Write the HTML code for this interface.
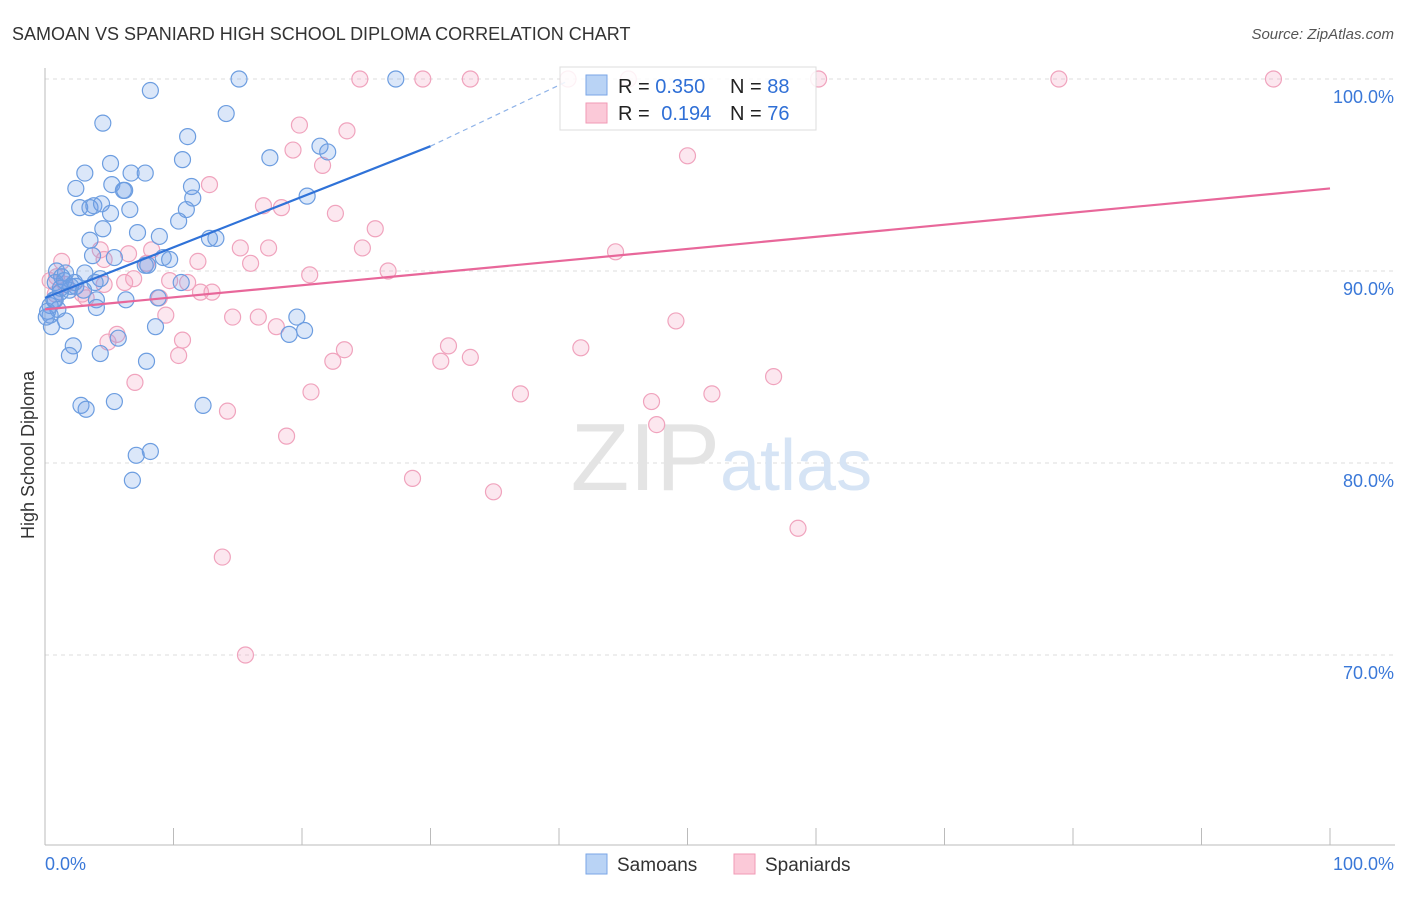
<!DOCTYPE html>
<html><head><meta charset="utf-8"><style>
body{margin:0;background:#fff;font-family:"Liberation Sans",sans-serif;}
svg text{font-family:"Liberation Sans",sans-serif;}
</style></head><body>
<svg id="chart" width="1406" height="892">
<text x="12" y="40" font-size="18" fill="#333">SAMOAN VS SPANIARD HIGH SCHOOL DIPLOMA CORRELATION CHART</text>
<text x="1394" y="39" font-size="15" fill="#555" font-style="italic" text-anchor="end">Source: ZipAtlas.com</text>
<text x="34" y="455" font-size="18" fill="#333" text-anchor="middle" transform="rotate(-90 34 455)">High School Diploma</text>
<g id="grid"></g>
<text x="720" y="490" font-size="96" fill="#e4e4e4" text-anchor="end" font-family="Liberation Serif">ZIP</text>
<text x="720" y="490" font-size="72" fill="#d6e4f5">atlas</text>
<g id="marks"></g>
<g id="lines"></g>
<g>
<rect x="560" y="67" width="256" height="63" fill="#fff" fill-opacity="0.85" stroke="#ddd"/>
<rect x="586" y="75" width="21" height="20" fill="#b9d3f5" stroke="#7aa6e6"/>
<rect x="586" y="103" width="21" height="20" fill="#fbc9d8" stroke="#f09ab6"/>
<text x="618" y="93" font-size="20" fill="#222">R = <tspan fill="#2f6fd6">0.350</tspan></text>
<text x="730" y="93" font-size="20" fill="#222">N = <tspan fill="#2f6fd6">88</tspan></text>
<text x="618" y="120" font-size="20" fill="#222">R = <tspan fill="#2f6fd6" dx="6">0.194</tspan></text>
<text x="730" y="120" font-size="20" fill="#222">N = <tspan fill="#2f6fd6">76</tspan></text>
</g>
<g>
<rect x="586" y="854" width="21" height="20" fill="#b9d3f5" stroke="#7aa6e6"/>
<text x="617" y="871" font-size="19" fill="#333">Samoans</text>
<rect x="734" y="854" width="21" height="20" fill="#fbc9d8" stroke="#f09ab6"/>
<text x="765" y="871" font-size="19" fill="#333">Spaniards</text>
</g>
<text x="45" y="870" font-size="18" fill="#3a78d8">0.0%</text>
<text x="1394" y="870" font-size="18" fill="#3a78d8" text-anchor="end">100.0%</text>
</svg>
<script>
const yTicks=[100,90,80,70];
const yTickLabels=["100.0%","90.0%","80.0%","70.0%"];
const samX=[15.1,27.3,8.2,14.1,4.5,11.1,21.4,22.0,17.5,10.7,5.1,3.1,6.7,7.8,5.2,6.1,6.2,2.4,11.4,11.5,20.4,2.7,3.5,3.8,4.4,6.6,5.1,11.0,10.4,4.5,7.2,8.9,3.5,12.8,13.3,5.4,3.7,9.2,9.7,7.8,8.0,0.9,1.6,3.1,1.3,4.3,3.9,0.8,2.0,2.4,10.6,1.9,1.2,4.0,6.3,8.8,0.8,0.4,0.2,1.0,4.0,1.6,0.5,19.6,20.2,19.0,8.6,5.7,2.2,4.3,1.9,7.9,5.4,2.8,3.2,12.3,8.2,7.1,6.8,0.4,0.7,0.1,1.2,3.0,2.3,1.5];
const samY=[100,100,99.4,98.2,97.7,97.0,96.5,96.2,95.9,95.8,95.6,95.1,95.1,95.1,94.5,94.2,94.2,94.3,94.4,93.8,93.9,93.3,93.3,93.4,93.5,93.2,93.0,93.2,92.6,92.2,92.0,91.8,91.6,91.7,91.7,90.7,90.8,90.7,90.6,90.3,90.3,90.0,89.9,89.9,89.7,89.6,89.4,89.4,89.2,89.2,89.4,89.0,88.9,88.5,88.5,88.6,88.5,88.2,87.9,88.0,88.1,87.4,87.1,87.6,86.9,86.7,87.1,86.5,86.1,85.7,85.6,85.3,83.2,83.0,82.8,83.0,80.6,80.4,79.1,87.7,88.5,87.6,89.1,89.0,89.4,89.5];
const spaX=[24.5,29.4,33.1,40.7,45.4,60.2,78.9,95.6,19.8,23.5,19.3,21.6,50.0,12.8,17.0,18.4,22.6,25.7,6.5,15.2,8.3,17.4,24.7,44.4,1.3,4.3,4.6,16.0,11.9,7.9,26.7,20.6,0.9,9.7,11.1,4.6,6.2,13.0,12.1,8.9,3.2,6.9,9.4,14.6,16.6,18.0,49.1,5.6,10.7,4.9,10.4,23.3,31.4,41.7,30.8,33.1,22.4,56.7,7.0,20.7,37.0,51.9,47.2,14.2,47.6,18.8,28.6,34.9,58.6,13.8,15.6,0.4,1.6,2.9,0.8];
const spaY=[100,100,100,100,100,100,100,100,97.6,97.3,96.3,95.5,96.0,94.5,93.4,93.3,93.0,92.2,90.9,91.2,91.1,91.2,91.2,91.0,90.5,91.1,90.6,90.4,90.5,90.4,90.0,89.8,89.7,89.5,89.4,89.3,89.4,88.9,88.9,88.6,88.6,89.6,87.7,87.6,87.6,87.1,87.4,86.7,86.4,86.3,85.6,85.9,86.1,86.0,85.3,85.5,85.3,84.5,84.2,83.7,83.6,83.6,83.2,82.7,82.0,81.4,79.2,78.5,76.6,75.1,70.0,89.5,89.3,88.8,88.8];
const samTrend=[[0,88.6],[30,96.5],[40.7,99.9]];
const spaTrend=[[0,88.0],[100,94.3]];
const NS="http://www.w3.org/2000/svg";
const X=v=>45+v*12.85, Y=v=>79+(100-v)*19.2;
function mk(tag,attrs,parent){const e=document.createElementNS(NS,tag);for(const k in attrs)e.setAttribute(k,attrs[k]);parent.appendChild(e);return e;}
const grid=document.getElementById('grid');
yTicks.forEach((t,i)=>{
 const l=mk('line',{x1:45,x2:1395,y1:Y(t),y2:Y(t),stroke:'#ddd','stroke-dasharray':'4 4'},grid);
 
 
 const tx=mk('text',{x:1394,y:Y(t)+24,'font-size':18,fill:'#3a78d8','text-anchor':'end'},grid);
 tx.textContent=yTickLabels[i];
 
 
});
const ax=mk('line',{x1:45,x2:1395,y1:845,y2:845,stroke:'#bbb'},grid);


const ay=mk('line',{x1:45,x2:45,y1:68,y2:845,stroke:'#bbb'},grid);


for(let i=0;i<=10;i++){const tk=mk('line',{x1:X(i*10),x2:X(i*10),y1:828,y2:845,stroke:'#bbb'},grid);
 
 }
const marks=document.getElementById('marks');
spaX.forEach((x,i)=>{const c=mk('circle',{cx:X(x),cy:Y(spaY[i]),r:8,fill:'rgba(244,160,190,0.25)',stroke:'#f0a3bd','stroke-width':1.2},marks);
 
 });
samX.forEach((x,i)=>{const c=mk('circle',{cx:X(x),cy:Y(samY[i]),r:8,fill:'rgba(110,160,230,0.25)',stroke:'#6c9de0','stroke-width':1.2},marks);
 
 });
const lines=document.getElementById('lines');
const b1=mk('line',{x1:X(samTrend[0][0]),y1:Y(samTrend[0][1]),x2:X(samTrend[1][0]),y2:Y(samTrend[1][1]),stroke:'#2f72d8','stroke-width':2.2},lines);


const b2=mk('line',{x1:X(samTrend[1][0]),y1:Y(samTrend[1][1]),x2:X(samTrend[2][0]),y2:Y(samTrend[2][1]),stroke:'#8fb3e8','stroke-width':1.2,'stroke-dasharray':'5 4'},lines);


const p1=mk('line',{x1:X(spaTrend[0][0]),y1:Y(spaTrend[0][1]),x2:X(spaTrend[1][0]),y2:Y(spaTrend[1][1]),stroke:'#e8679a','stroke-width':2.2},lines);


</script>
</body></html>
